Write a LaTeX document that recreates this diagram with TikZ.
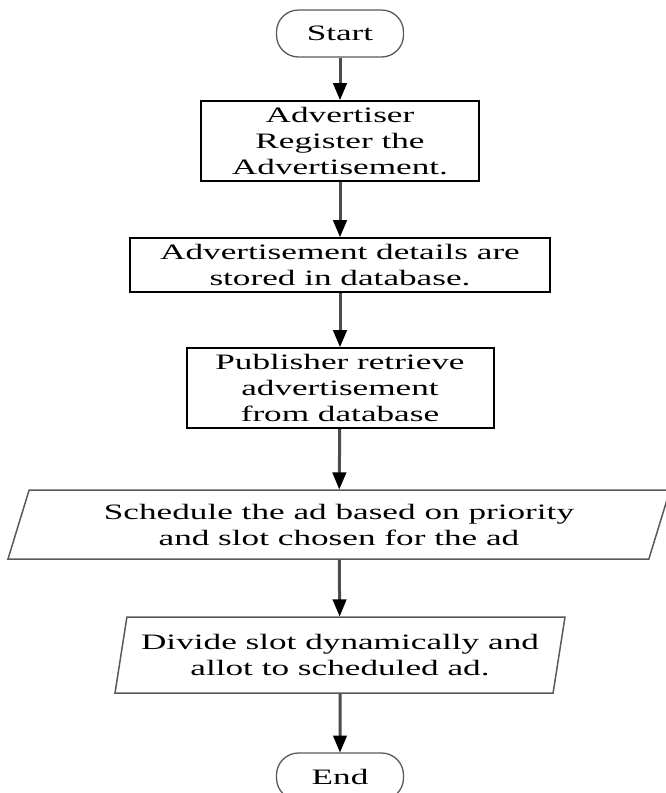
\documentclass[tikz,border=0pt]{standalone}
\usepackage{fontspec}
\setmainfont{Liberation Serif}[FakeStretch=1.6]
\usetikzlibrary{arrows,shapes,calc}
\tikzset{
  terminal/.style={draw=gray!70!black, line width=1.3pt, rounded corners=22pt,
    minimum width=127pt, minimum height=47pt, inner sep=0pt},
  process/.style={draw=black, line width=2pt, inner sep=0pt, align=center},
  io/.style={draw=gray!70!black, line width=1.5pt, trapezium, trapezium stretches body,
    inner sep=0pt, align=center},
  flow/.style={draw=gray!60!black, line width=3pt, -{triangle 45[black]}},
  every node/.style={font=\fontsize{22pt}{26pt}\selectfont}
}

\begin{document}
\begin{tikzpicture}[x=1pt,y=-1pt]
  \useasboundingbox (0,0) rectangle (665,793);
  \node[terminal] (start) at (340,33.5) {Start};
  \node[process, minimum width=278pt, minimum height=80pt] (reg) at (340,141)
    {Advertiser\\Register the\\Advertisement.};
  \node[process, minimum width=420pt, minimum height=54pt] (store) at (340,265)
    {Advertisement details are\\stored in database.};
  \node[process, minimum width=307pt, minimum height=80pt] (pub) at (340,388)
    {Publisher retrieve\\advertisement\\from database};
  \node[io, trapezium left angle=63, trapezium right angle=117,
    minimum width=662pt, minimum height=69pt] (sched) at (339,524.5)
    {Schedule the ad based on priority\\and slot chosen for the ad};
  \node[io, trapezium left angle=74, trapezium right angle=106,
    minimum width=450pt, minimum height=76pt] (divide) at (340,655)
    {Divide slot dynamically and\\allot to scheduled ad.};
  \node[terminal] (stop) at (340,776.5) {End};
  % arrows
  \draw[flow] (start) -- (reg);
  \draw[flow] (reg) -- (store);
  \draw[flow] (store) -- (pub);
  \draw[flow] (pub) -- (sched);
  \draw[flow] (sched) -- (divide);
  \draw[flow] (divide) -- (stop);
\end{tikzpicture}
\end{document}
